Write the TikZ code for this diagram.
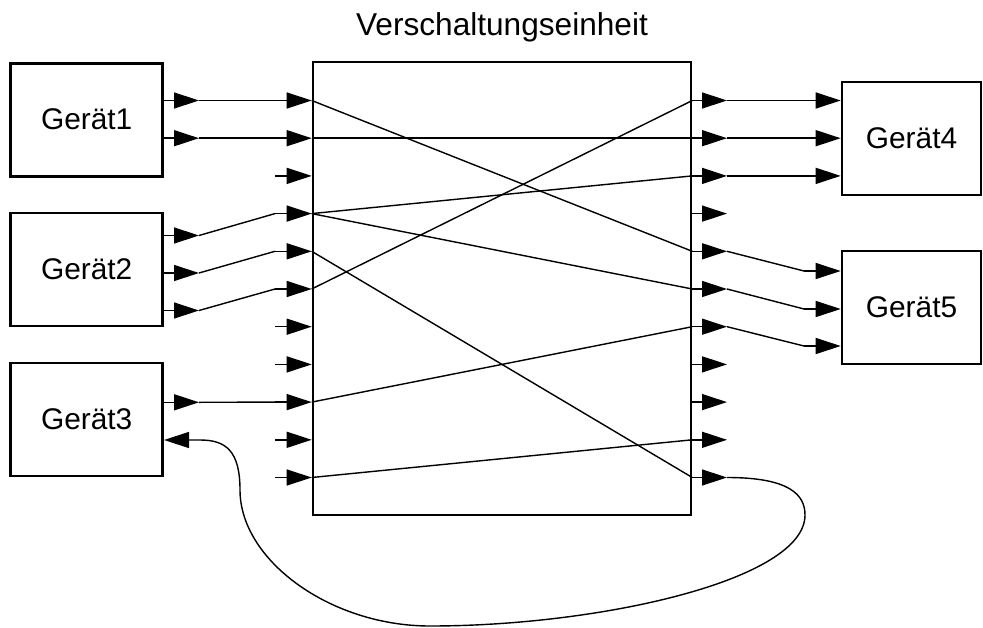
\documentclass[tikz,border=0pt]{standalone}
\usepackage{fontspec}
\setmainfont{Liberation Sans}
\usetikzlibrary{arrows.meta, calc}

\begin{document}
\begin{tikzpicture}[
    x = 0.02cm, y = -0.02cm,
    device/.style = {draw, line width = 1.5pt, inner sep = 0pt,
      minimum height = 2.26cm, font = \fontsize{17}{20}\selectfont},
    port/.style = {line width = 0.8pt, -{Triangle[length = 0.5cm, width = 0.32cm]}},
    wire/.style = {line width = 0.8pt}
  ]
  \useasboundingbox (0,0) rectangle (983,628);

  % Geraete und Verschaltungseinheit
  \node[device, minimum width = 3.04cm] (g1) at (86.7,119.7) {Gerät1};
  \node[device, minimum width = 3.04cm] (g2) at (86.7,269.5) {Gerät2};
  \node[device, minimum width = 3.04cm] (g3) at (86.7,419.5) {Gerät3};
  \node[device, minimum width = 2.78cm] (g4) at (911.5,138.5) {Gerät4};
  \node[device, minimum width = 2.78cm] (g5) at (911.5,307.5) {Gerät5};
  \node[draw, line width = 1.5pt, minimum width = 7.56cm, minimum height = 9.06cm]
    (vsu) at (502,288.5) {};
  \node[font = \fontsize{18}{21}\selectfont, anchor = base] (title) at (502,35.5)
    {Verschaltungseinheit};

  % Ein- und Ausgaenge der Verschaltungseinheit
  \foreach \i in {1,...,11} {
    \coordinate (pin\i)  at (275, 62.8+37.7*\i);
    \coordinate (in\i)   at (vsu.west |- pin\i);
    \coordinate (out\i)  at (vsu.east |- pin\i);
    \coordinate (pout\i) at (727, 62.8+37.7*\i);
    \draw[port] (pin\i) -- (in\i);
    \draw[port] (out\i) -- (pout\i);
  }

  % Anschluesse der Geraete
  \coordinate (g1p1) at (199,100.5);
  \coordinate (g1p2) at (199,138.2);
  \coordinate (g2p1) at (199,235.5);
  \coordinate (g2p2) at (199,273);
  \coordinate (g2p3) at (199,310.5);
  \coordinate (g3p1) at (199,402.3);
  \coordinate (g3in) at (200,440);
  \coordinate (g4p1) at (804,100.5);
  \coordinate (g4p2) at (804,138.2);
  \coordinate (g4p3) at (804,175.9);
  \coordinate (g5p1) at (804,271);
  \coordinate (g5p2) at (804,309);
  \coordinate (g5p3) at (804,346);
  \foreach \p in {g1p1, g1p2} \draw[port] (g1.east |- \p) -- (\p);
  \foreach \p in {g2p1, g2p2, g2p3} \draw[port] (g2.east |- \p) -- (\p);
  \draw[port] (g3.east |- g3p1) -- (g3p1);
  \foreach \p in {g4p1, g4p2, g4p3} \draw[port] (\p) -- (g4.west |- \p);
  \foreach \p in {g5p1, g5p2, g5p3} \draw[port] (\p) -- (g5.west |- \p);

  % Leitungen
  \draw[wire] (g1p1) -- (pin1);
  \draw[wire] (g1p2) -- (pin2);
  \draw[wire] (g2p1) -- (pin4);
  \draw[wire] (g2p2) -- (pin5);
  \draw[wire] (g2p3) -- (pin6);
  \draw[wire] (g3p1) -- (pin9);
  \draw[wire] (pout1) -- (g4p1);
  \draw[wire] (pout2) -- (g4p2);
  \draw[wire] (pout3) -- (g4p3);
  \draw[wire] (pout5) -- (g5p1);
  \draw[wire] (pout6) -- (g5p2);
  \draw[wire] (pout7) -- (g5p3);

  % Verschaltung
  \draw[wire] (in1) -- (out5);
  \draw[wire] (in2) -- (out2);
  \draw[wire] (in4) -- (out3);
  \draw[wire] (in4) -- (out6);
  \draw[wire] (in5) -- (out11);
  \draw[wire] (in6) -- (out1);
  \draw[wire] (in9) -- (out7);
  \draw[wire] (in11) -- (out10);

  % Rueckfuehrung zu Geraet3
  \draw[port] (pout11) .. controls (790,477.5) and (805,495) .. (805,515)
    .. controls (805,580) and (600,626) .. (430,626)
    .. controls (330,626) and (240,560) .. (240,490)
    .. controls (240,450) and (225,440) .. (g3in) -- (g3.east |- g3in);

\end{tikzpicture}
\end{document}
